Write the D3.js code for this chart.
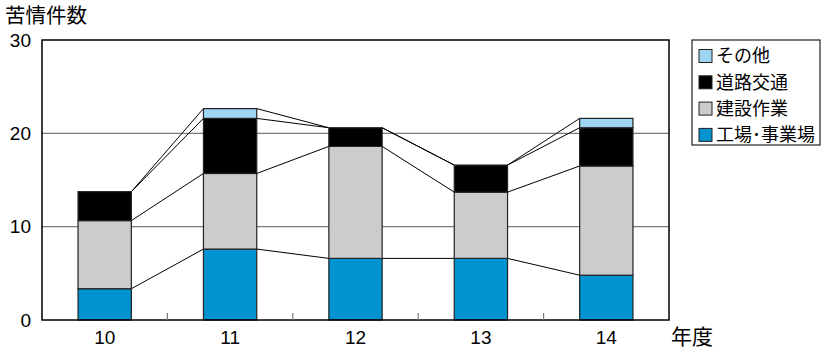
<!DOCTYPE html>
<html><head><meta charset="utf-8">
<script src="https://cdn.jsdelivr.net/npm/d3@7"></script>
<style>
body{margin:0;background:#fff}
svg{display:block}
.num{font-family:"Liberation Sans Narrow","Liberation Sans",Arial,sans-serif}
.jp{font-family:"Noto Sans CJK JP","Noto Sans",sans-serif}
</style></head>
<body><svg id="chart" width="829" height="349"></svg>
<script>
// Complaint counts by fiscal year, stacked by source
const years = ["10", "11", "12", "13", "14"];
const factory = [3.35, 7.6, 6.6, 6.6, 4.8];     // 工場・事業場
const construction = [7.3, 8.1, 12.0, 7.1, 11.7]; // 建設作業
const traffic = [3.1, 5.9, 2.0, 2.9, 4.1];      // 道路交通
const other = [0, 1.05, 0, 0, 1.0];             // その他
const yTicks = [0, 10, 20, 30];

const seriesNames = ["工場･事業場", "建設作業", "道路交通", "その他"];
const seriesColors = ["#0093d0", "#cccccc", "#000000", "#9dd5f3"];
const seriesValues = [factory, construction, traffic, other];

const svg = d3.select("#chart");
const m = {left: 42, right: 669, top: 40, bottom: 320};

const x = d3.scaleBand().domain(years).range([m.left, m.right]).paddingInner(0.575).paddingOuter(0.2875);
const y = d3.scaleLinear().domain([0, 30]).range([m.bottom, m.top]);

const table = years.map((yr, i) => {
  const row = {year: yr};
  seriesNames.forEach((s, k) => row[s] = seriesValues[k][i]);
  return row;
});
const stacked = d3.stack().keys(seriesNames)(table);

// gridlines
svg.append("g").selectAll("line").data([10, 20]).join("line")
  .attr("x1", m.left).attr("x2", m.right)
  .attr("y1", d => y(d)).attr("y2", d => y(d))
  .attr("stroke", "#7a7a7a").attr("stroke-width", 1.2);

// connector lines between neighbouring bars
const conn = svg.append("g");
stacked.forEach(layer => {
  for (let i = 0; i < years.length - 1; i++) {
    conn.append("line")
      .attr("x1", x(years[i]) + x.bandwidth()).attr("y1", y(layer[i][1]))
      .attr("x2", x(years[i + 1])).attr("y2", y(layer[i + 1][1]))
      .attr("stroke", "#000").attr("stroke-width", 1);
  }
});

// bars
stacked.forEach((layer, k) => {
  svg.append("g").selectAll("rect").data(layer.filter(d => d[1] - d[0] > 0)).join("rect")
    .attr("x", d => x(d.data.year))
    .attr("width", x.bandwidth())
    .attr("y", d => y(d[1]))
    .attr("height", d => y(d[0]) - y(d[1]))
    .attr("fill", seriesColors[k])
    .attr("stroke", "#222").attr("stroke-width", 1.2);
});

// plot frame
svg.append("rect").attr("x", m.left).attr("y", m.top)
  .attr("width", m.right - m.left).attr("height", m.bottom - m.top)
  .attr("fill", "none").attr("stroke", "#000").attr("stroke-width", 1.5);

// category separators on the x axis
svg.append("g").selectAll("line").data(d3.range(1, years.length)).join("line")
  .attr("x1", d => m.left + d * (m.right - m.left) / years.length)
  .attr("x2", d => m.left + d * (m.right - m.left) / years.length)
  .attr("y1", m.bottom).attr("y2", m.bottom - 7)
  .attr("stroke", "#777").attr("stroke-width", 1.2);

// y tick labels
svg.append("g").selectAll("text").data(yTicks).join("text")
  .attr("class", "num")
  .attr("x", 31).attr("y", d => y(d)).attr("dy", "0.35em")
  .attr("text-anchor", "end").attr("font-size", 19).text(d => d);

// x tick labels
svg.append("g").selectAll("text").data(years).join("text")
  .attr("class", "num")
  .attr("x", d => x(d) + x.bandwidth() / 2).attr("y", 337).attr("dy", "0.35em")
  .attr("text-anchor", "middle").attr("font-size", 19).text(d => d);

// axis titles
svg.append("text").attr("class", "jp").attr("x", 5).attr("y", 23)
  .attr("font-size", 20.5).text("苦情件数");
svg.append("text").attr("class", "jp").attr("x", 671).attr("y", 336).attr("dy", "0.36em")
  .attr("font-size", 21).text("年度");

// legend
const lg = svg.append("g");
lg.append("rect").attr("x", 692).attr("y", 40).attr("width", 128).attr("height", 105)
  .attr("fill", "#fff").attr("stroke", "#222").attr("stroke-width", 1.2);
const legendOrder = [3, 2, 1, 0];
legendOrder.forEach((k, j) => {
  const cy = 56 + j * 26.3;
  lg.append("rect").attr("x", 699).attr("y", cy - 6.5).attr("width", 13).attr("height", 13)
    .attr("fill", seriesColors[k]).attr("stroke", "#222").attr("stroke-width", 1);
  lg.append("text").attr("class", "jp").attr("x", 716).attr("y", cy).attr("dy", "0.36em")
    .attr("font-size", 18).text(seriesNames[k]);
});
</script></body></html>
